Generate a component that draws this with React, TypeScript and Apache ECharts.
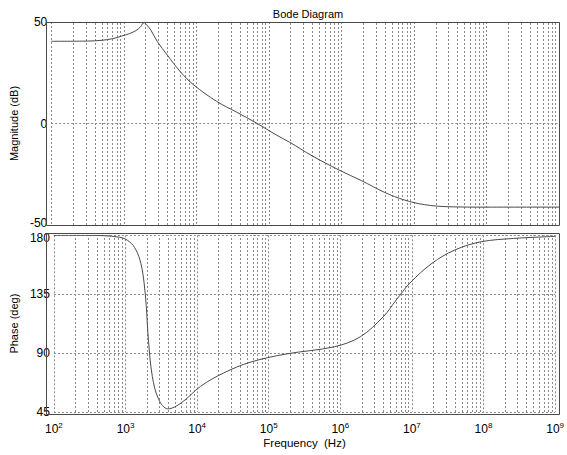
import React, { useEffect, useRef } from "react";
import * as echarts from "echarts";

// Magnitude response (Hz, dB)
const magFreq = [
  100, 316, 501, 708, 923, 1202, 1479, 1698, 1905, 2042, 2360, 2911, 3981, 6026,
  9204, 19055, 35892, 67608, 125893, 192752, 398107, 924698, 1905461,
  3981072, 7413102, 14125375, 29512092, 100000000, 1000000000,
];
const magDb = [
  40.5, 40.6, 41.0, 41.8, 43.0, 44.3, 45.8, 47.6, 49.7, 48.8, 46.0, 40.3, 33.7,
  25.5, 19.0, 10.9, 5.6, 0.2, -5.6, -9.2, -16.0, -22.9, -28.2, -34.0,
  -37.7, -40.0, -41.0, -41.2, -41.2,
];

// Phase response (Hz, deg)
const phaseFreq = [
  100, 288, 832, 1135, 1400, 1637, 1820, 1950, 2089, 2366, 2911, 3890, 6026,
  11220, 23442, 54954, 173780, 831764, 1905461, 3981072, 6025596,
  9332543, 19054607, 39810717, 93325430, 263026799, 758577575, 1000000000,
];
const phaseDeg = [
  180, 180, 178.5, 175.1, 168.8, 158.6, 143.4, 125.6, 100.2, 72.3, 54.5, 47.4,
  52.0, 64.7, 74.8, 83.0, 89.3, 94.9, 102.5, 117.8, 130.5, 143.4, 158.6,
  168.8, 175.1, 177.6, 178.9, 179.1,
];

const magTicks = [-50, 0, 50];
const phaseTicks = [45, 90, 135, 180];
const minorMultipliers = [2, 3, 4, 5, 6, 7, 8, 9];
const decadeExponents = [2, 3, 4, 5, 6, 7, 8];

const FONT = "'Liberation Sans', Arial, Helvetica, sans-serif";
const GRID_COLOR = "#8a8a8a";
const FRAME_COLOR = "#4a4a4a";
const CURVE_COLOR = "#4a4a45";

export default function App() {
  const ref = useRef<HTMLDivElement>(null);

  useEffect(() => {
    if (!ref.current) return;
    const chart = echarts.init(ref.current, undefined, { renderer: "svg" });

    const minorLines: any[] = [];
    decadeExponents.forEach((e) => {
      minorMultipliers.forEach((m) => {
        minorLines.push({ xAxis: m * Math.pow(10, e) });
      });
    });

    const markLine = {
      silent: true,
      symbol: ["none", "none"],
      label: { show: false },
      lineStyle: { type: [2, 2], color: GRID_COLOR, width: 1 },
      emphasis: { disabled: true },
      animation: false,
      data: minorLines,
    };

    const gridLine = {
      show: true,
      lineStyle: { type: [2, 2], color: GRID_COLOR, width: 1 },
    };

    const baseX = {
      type: "log",
      logBase: 10,
      min: 100,
      max: 1e9,
      axisLine: { show: false },
      axisTick: { show: false },
      splitLine: gridLine,
    };

    const labelRich = {
      n: { fontFamily: FONT, fontSize: 12, color: "#000" },
      up: { fontFamily: FONT, fontSize: 12, color: "#000", padding: [0, 0, 5, 0] },
      dn: { fontFamily: FONT, fontSize: 12, color: "#000", padding: [5, 0, 0, 0] },
    };

    const baseY = {
      type: "value",
      nameLocation: "middle",
      nameTextStyle: { fontFamily: FONT, fontSize: 11, color: "#000" },
      axisLine: { show: false },
      axisTick: { show: false },
      splitLine: gridLine,
    };

    const option: any = {
      animation: false,
      backgroundColor: "#fff",
      title: {
        text: "Bode Diagram",
        left: 303,
        top: 3,
        textAlign: "center",
        textStyle: { fontFamily: FONT, fontSize: 11, fontWeight: "normal", color: "#000" },
      },
      grid: [
        { left: 46, top: 22, width: 513, height: 203 },
        { left: 46, top: 235.3, width: 513, height: 176.7 },
      ],
      xAxis: [
        { ...baseX, gridIndex: 0, axisLabel: { show: false } },
        {
          ...baseX,
          gridIndex: 1,
          name: "Frequency  (Hz)",
          nameLocation: "middle",
          nameGap: 25,
          nameTextStyle: { fontFamily: FONT, fontSize: 11.5, color: "#000" },
          axisLabel: {
            margin: 9,
            formatter: (v: number) => `{b|10}{s|${Math.round(Math.log10(v))}}`,
            rich: {
              b: { fontFamily: FONT, fontSize: 12, color: "#000" },
              s: { fontFamily: FONT, fontSize: 8, color: "#000", padding: [0, 0, 8, 0] },
            },
          },
        },
      ],
      yAxis: [
        {
          ...baseY,
          gridIndex: 0,
          min: magTicks[0],
          max: magTicks[magTicks.length - 1],
          interval: 50,
          name: "Magnitude (dB)",
          nameGap: 29,
          axisLabel: {
            margin: 4,
            formatter: (v: number) => (v === magTicks[0] ? `{up|${v}}` : `{n|${v}}`),
            rich: labelRich,
          },
        },
        {
          ...baseY,
          gridIndex: 1,
          min: phaseTicks[0],
          max: phaseTicks[phaseTicks.length - 1],
          interval: 45,
          name: "Phase (deg)",
          nameGap: 29,
          axisLabel: {
            margin: 4,
            formatter: (v: number) =>
              v === phaseTicks[phaseTicks.length - 1] ? `{dn|${v}}` : `{n|${v}}`,
            rich: labelRich,
          },
        },
      ],
      graphic: [
        {
          type: "rect",
          z: 100,
          silent: true,
          shape: { x: 46.5, y: 22.5, width: 513, height: 203 },
          style: { fill: "none", stroke: FRAME_COLOR, lineWidth: 1 },
        },
        {
          type: "rect",
          z: 100,
          silent: true,
          shape: { x: 46.5, y: 233.5, width: 513, height: 181 },
          style: { fill: "none", stroke: FRAME_COLOR, lineWidth: 1 },
        },
      ],
      series: [
        {
          type: "line",
          xAxisIndex: 0,
          yAxisIndex: 0,
          data: magFreq.map((f, i) => [f, magDb[i]]),
          showSymbol: false,
          smooth: 0.35,
          lineStyle: { color: CURVE_COLOR, width: 1 },
          z: 10,
          markLine,
        },
        {
          type: "line",
          xAxisIndex: 1,
          yAxisIndex: 1,
          data: phaseFreq.map((f, i) => [f, phaseDeg[i]]),
          showSymbol: false,
          smooth: 0.35,
          lineStyle: { color: CURVE_COLOR, width: 1 },
          z: 10,
          markLine,
        },
      ],
    };

    chart.setOption(option);
    return () => chart.dispose();
  }, []);

  return (
    <div
      ref={ref}
      style={{ position: "fixed", left: 0, top: 0, width: 567, height: 455, background: "#fff" }}
    />
  );
}
